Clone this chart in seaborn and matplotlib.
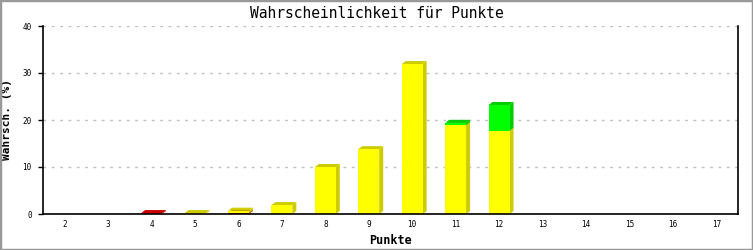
import matplotlib
matplotlib.use("Agg")
import matplotlib.pyplot as plt
import seaborn as sns
import numpy as np
import pandas as pd
from matplotlib.patches import Polygon, Rectangle

# ---- data ----
categories = ["2", "3", "4", "5", "6", "7", "8", "9", "10", "11", "12", "13", "14", "15", "16", "17"]
red_vals    = [0, 0, 0.2, 0, 0.2, 0, 0, 0, 0, 0, 0, 0, 0, 0, 0, 0]
yellow_vals = [0, 0, 0, 0.2, 0.5, 1.9, 10.0, 13.8, 31.9, 18.9, 17.7, 0, 0, 0, 0, 0]
green_vals  = [0, 0, 0, 0, 0, 0, 0, 0, 0, 0.5, 5.5, 0, 0, 0, 0, 0]
y_ticks = [0, 10, 20, 30, 40]

title = "Wahrscheinlichkeit für Punkte"
xlabel = "Punkte"
ylabel = "Wahrsch. (%)"

front_colors = {"red": "#FF0000", "yellow": "#FFFF00", "green": "#00FF00"}
dark_colors = {"red": "#CC0000", "yellow": "#CCCC00", "green": "#00CC00"}

sns.set_theme(style="white")
plt.rcParams["font.family"] = ["DejaVu Sans Mono", "DejaVu Sans"]
plt.rcParams["text.color"] = "black"
plt.rcParams["axes.labelcolor"] = "black"
plt.rcParams["xtick.color"] = "black"
plt.rcParams["ytick.color"] = "black"

fig = plt.figure(figsize=(7.53, 2.5), dpi=100)
ax = fig.add_axes([43 / 753, 36 / 250, (738 - 43) / 753, (214 - 26) / 250])

red = np.array(red_vals)
yellow = np.array(yellow_vals)
green = np.array(green_vals)
layers = [("red", np.zeros_like(red), red),
          ("yellow", red, red + yellow),
          ("green", red + yellow, red + yellow + green)]

bar_w = 0.48
# fronts: overlay cumulative tops, largest first
for name, bottom, top in reversed(layers):
    df = pd.DataFrame({"Punkte": categories, "val": top})
    sns.barplot(data=df, x="Punkte", y="val", color=front_colors[name],
                saturation=1, width=bar_w, linewidth=0, ax=ax, zorder=3)

ax.set_xlim(-0.5, len(categories) - 0.5)
ax.set_ylim(0, 40)
ax.set_yticks(y_ticks)
ax.set_yticklabels([str(t) for t in y_ticks])

# 3D faces computed from the data via transData
fig.canvas.draw()
dx, dy = 4, 3
for name, bottom, top in layers:
    for i in range(len(categories)):
        if top[i] - bottom[i] <= 0:
            continue
        (x0, yb) = ax.transData.transform((i - bar_w / 2, bottom[i]))
        (x1, yt) = ax.transData.transform((i + bar_w / 2, top[i]))
        side = [(x1, yb), (x1 + dx, yb + dy), (x1 + dx, yt + dy), (x1, yt)]
        topf = [(x0, yt), (x1, yt), (x1 + dx, yt + dy), (x0 + dx, yt + dy)]
        for poly in (topf, side):
            p = Polygon(poly, closed=True, transform=None, facecolor=dark_colors[name],
                        edgecolor="none", zorder=2)
            ax.add_artist(p)

# grid
ax.yaxis.grid(True, color="#c0c0c0", linestyle=(0, (2, 4)), linewidth=1)
ax.xaxis.grid(False)
ax.set_axisbelow(True)

for s in ["left", "right", "bottom"]:
    ax.spines[s].set_visible(True)
    ax.spines[s].set_color("black")
    ax.spines[s].set_linewidth(1.2)
ax.spines["top"].set_visible(False)
ax.spines["bottom"].set_zorder(5)

ax.tick_params(axis="y", which="major", left=True, length=3.6, width=1, color="black",
               pad=4.5, labelsize=5.5)
ax.tick_params(axis="x", which="major", bottom=False, length=0, pad=4, labelsize=5.5)

ax.set_xlabel(xlabel, fontsize=8.5, fontweight="bold", labelpad=4)
ax.set_ylabel(ylabel, fontsize=8, fontweight="bold")
ax.yaxis.set_label_coords(-(43 - 12) / (738 - 43), 0.5)
fig.suptitle(title, fontsize=10.5, y=1 - 14 / 250, va="center")

# outer gray border
fig.patches.append(Rectangle((0, 0), 1, 1, transform=fig.transFigure, fill=False,
                             edgecolor="#999999", linewidth=2.5, zorder=10))

fig.savefig("out.png", dpi=100)
